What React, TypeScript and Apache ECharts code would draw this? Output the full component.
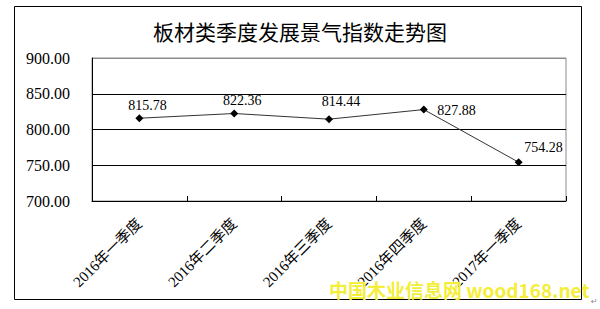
import React, { useEffect, useRef } from "react";
import * as echarts from "echarts";

const categories = ["2016年一季度", "2016年二季度", "2016年三季度", "2016年四季度", "2017年一季度"];
const values = [815.78, 822.36, 814.44, 827.88, 754.28];
const labelOffsets: [number, number][] = [[8, 3.5], [8, 3], [12, -1.5], [4.5, 1], [25, 1.5]];
const labelPositions = ["top", "top", "top", "right", "top"];
const titleText = "板材类季度发展景气指数走势图";
const watermarkText = "中国木业信息网 wood168.net";

const SERIF = "'Liberation Serif', 'Noto Sans CJK SC', serif";

export default function App() {
  const ref = useRef<HTMLDivElement>(null);
  useEffect(() => {
    if (!ref.current) return;
    const chart = echarts.init(ref.current, null, { renderer: "svg" });
    chart.setOption({
      animation: false,
      backgroundColor: "#ffffff",
      title: {
        text: titleText,
        left: "center",
        top: 15,
        textStyle: { fontSize: 21, fontWeight: "normal", color: "#000", fontFamily: "'Noto Sans CJK SC', sans-serif" },
      },
      grid: { left: 92, right: 34, top: 58, bottom: 108, show: true, borderColor: "#8c8c8c", borderWidth: 1 },
      xAxis: {
        type: "category",
        data: categories,
        boundaryGap: true,
        axisLine: { show: true, lineStyle: { color: "#000", width: 1 } },
        axisTick: { show: true, inside: true, length: 5, lineStyle: { color: "#000" } },
        axisLabel: { rotate: 45, interval: 0, margin: 20, color: "#000", fontSize: 15, fontFamily: SERIF },
      },
      yAxis: {
        type: "value",
        min: 700,
        max: 900,
        interval: 50,
        axisLine: { show: true, lineStyle: { color: "#000", width: 1 } },
        axisTick: { show: false },
        axisLabel: { margin: 22, color: "#000", fontSize: 16, fontFamily: SERIF, formatter: (v: number) => v.toFixed(2) },
        splitLine: { show: true, lineStyle: { color: ["#000", "#000", "#000", "#000", "#8c8c8c"], width: 1 } },
      },
      series: [
        {
          type: "line",
          data: values.map((v, i) => ({
            value: v,
            label: { position: labelPositions[i], offset: labelOffsets[i] },
          })),
          symbol: "diamond",
          symbolSize: 8,
          lineStyle: { color: "#333", width: 1 },
          itemStyle: { color: "#000" },
          label: {
            show: true,
            distance: 5,
            color: "#000",
            fontSize: 14,
            fontFamily: SERIF,
            formatter: (p: any) => Number(p.value).toFixed(2),
          },
        },
      ],
      graphic: [
        {
          type: "rect",
          shape: { x: 14.5, y: 6.5, width: 567, height: 293 },
          style: { fill: "none", stroke: "#000", lineWidth: 1 },
          silent: true,
        },
        {
          type: "text",
          left: 329,
          top: 280,
          style: {
            text: watermarkText,
            fill: "#f4ee3a",
            fontSize: 19,
            fontWeight: "bold",
            fontFamily: "'Noto Sans CJK SC', sans-serif",
          },
          z: 100,
        },
        {
          type: "text",
          left: 591,
          top: 297,
          style: { text: "↵", fill: "#888", fontSize: 8, fontFamily: "'DejaVu Sans', sans-serif" },
        },
      ],
    });
    return () => chart.dispose();
  }, []);
  return <div ref={ref} style={{ width: 600, height: 309, position: "absolute", left: 0, top: 0 }} />;
}
